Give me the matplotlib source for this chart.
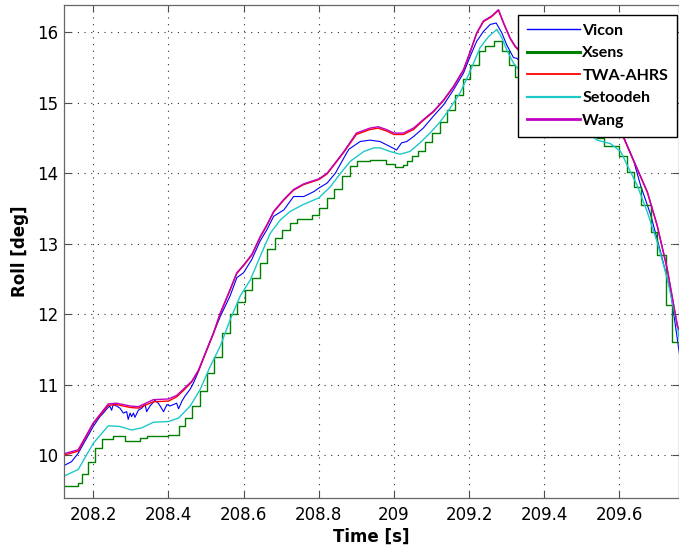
import matplotlib
matplotlib.use("Agg")
import matplotlib.pyplot as plt

# ---------------- data ----------------
t_vicon = [208.120, 208.142, 208.160, 208.180, 208.200, 208.218, 208.227, 208.236, 208.244,
           208.249, 208.253, 208.262, 208.271, 208.280, 208.289, 208.293, 208.298, 208.302,
           208.307, 208.311, 208.320, 208.329, 208.338, 208.342, 208.351, 208.364, 208.373,
           208.378, 208.387, 208.396, 208.404, 208.413, 208.422, 208.427, 208.436, 208.444,
           208.458, 208.467, 208.480, 208.502, 208.538, 208.564, 208.582, 208.600, 208.622,
           208.644, 208.662, 208.680, 208.707, 208.733, 208.760, 208.787, 208.800, 208.822,
           208.844, 208.867, 208.880, 208.910, 208.936, 208.963, 208.989, 209.007, 209.020,
           209.034, 209.052, 209.078, 209.105, 209.132, 209.158, 209.185, 209.203, 209.220,
           209.238, 209.256, 209.272, 209.287, 209.300, 209.318, 209.327, 209.380, 209.430,
           209.480, 209.530, 209.580, 209.612, 209.638, 209.656, 209.683, 209.709, 209.736,
           209.760]
vicon = [9.85, 9.91, 10.03, 10.22, 10.41, 10.55, 10.60, 10.66, 10.70,
         10.64, 10.72, 10.70, 10.67, 10.60, 10.62, 10.51, 10.60, 10.55,
         10.60, 10.54, 10.64, 10.67, 10.72, 10.62, 10.70, 10.78, 10.74,
         10.70, 10.62, 10.72, 10.70, 10.72, 10.74, 10.66, 10.77, 10.84,
         10.94, 11.03, 11.19, 11.50, 11.97, 12.26, 12.52, 12.59, 12.78,
         13.04, 13.20, 13.39, 13.48, 13.67, 13.67, 13.74, 13.79, 13.86,
         14.00, 14.22, 14.34, 14.45, 14.47, 14.45, 14.38, 14.33, 14.43,
         14.45, 14.52, 14.64, 14.81, 14.97, 15.18, 15.42, 15.66, 15.87,
         16.01, 16.11, 16.13, 15.99, 15.82, 15.64, 15.63, 15.35, 15.10,
         14.90, 14.72, 14.62, 14.50, 14.17, 13.83, 13.41, 12.89, 12.32,
         11.42]

t_xsens = [208.120, 208.160, 208.169, 208.187, 208.204, 208.222, 208.253, 208.284, 208.324,
           208.342, 208.400, 208.427, 208.444, 208.462, 208.484, 208.502, 208.520, 208.542,
           208.564, 208.582, 208.604, 208.622, 208.644, 208.662, 208.684, 208.702, 208.724,
           208.742, 208.782, 208.800, 208.822, 208.840, 208.862, 208.884, 208.902, 208.936,
           208.980, 209.003, 209.025, 209.034, 209.047, 209.065, 209.083, 209.100, 209.123,
           209.140, 209.163, 209.185, 209.203, 209.225, 209.243, 209.265, 209.287, 209.305,
           209.323, 209.345, 209.380, 209.420, 209.460, 209.500, 209.540, 209.558, 209.598,
           209.620, 209.638, 209.656, 209.683, 209.700, 209.723, 209.740, 209.760]
xsens = [9.56, 9.61, 9.73, 9.91, 10.10, 10.23, 10.27, 10.20, 10.25,
         10.28, 10.29, 10.42, 10.53, 10.70, 10.91, 11.17, 11.40, 11.74,
         12.00, 12.18, 12.35, 12.52, 12.73, 12.92, 13.08, 13.20, 13.30,
         13.35, 13.41, 13.51, 13.65, 13.77, 13.96, 14.10, 14.17, 14.19,
         14.13, 14.09, 14.12, 14.17, 14.24, 14.31, 14.45, 14.57, 14.73,
         14.90, 15.11, 15.33, 15.54, 15.73, 15.80, 15.87, 15.73, 15.54,
         15.37, 15.20, 15.00, 14.85, 14.72, 14.64, 14.50, 14.38, 14.24,
         14.02, 13.81, 13.55, 13.17, 12.84, 12.13, 11.61, 11.56]

t_twa = [208.120, 208.160, 208.200, 208.240, 208.262, 208.298, 208.320, 208.360, 208.400,
         208.422, 208.440, 208.462, 208.480, 208.502, 208.520, 208.538, 208.560, 208.582,
         208.600, 208.622, 208.644, 208.662, 208.680, 208.707, 208.733, 208.760, 208.800,
         208.822, 208.844, 208.867, 208.900, 208.936, 208.958, 208.980, 209.000, 209.025,
         209.052, 209.078, 209.105, 209.132, 209.158, 209.185, 209.203, 209.220, 209.238,
         209.260, 209.278, 209.292, 209.309, 209.323, 209.360, 209.410, 209.460, 209.510,
         209.560, 209.600, 209.612, 209.647, 209.674, 209.700, 209.727, 209.754, 209.760]
twa = [10.00, 10.06, 10.45, 10.71, 10.72, 10.68, 10.67, 10.76, 10.77,
       10.83, 10.92, 11.04, 11.20, 11.49, 11.73, 12.01, 12.29, 12.58,
       12.69, 12.84, 13.09, 13.26, 13.45, 13.62, 13.76, 13.84, 13.91,
       13.99, 14.14, 14.30, 14.55, 14.62, 14.64, 14.60, 14.55, 14.55,
       14.62, 14.75, 14.87, 15.03, 15.22, 15.46, 15.72, 15.98, 16.15,
       16.22, 16.31, 16.12, 15.91, 15.79, 15.59, 15.29, 15.02, 14.84,
       14.70, 14.58, 14.49, 14.06, 13.73, 13.26, 12.64, 11.83, 11.76]

t_setoodeh = [208.120, 208.160, 208.200, 208.240, 208.271, 208.302, 208.329, 208.360, 208.400,
              208.427, 208.458, 208.484, 208.511, 208.538, 208.564, 208.591, 208.618, 208.644,
              208.671, 208.698, 208.724, 208.760, 208.800, 208.831, 208.858, 208.884, 208.920,
              208.947, 208.963, 208.989, 209.016, 209.043, 209.069, 209.096, 209.123, 209.149,
              209.176, 209.203, 209.229, 209.252, 209.274, 209.287, 209.300, 209.318, 209.360,
              209.410, 209.460, 209.500, 209.540, 209.576, 209.603, 209.620, 209.647, 209.674,
              209.700, 209.727, 209.754, 209.760]
setoodeh = [9.70, 9.80, 10.17, 10.42, 10.41, 10.36, 10.39, 10.47, 10.48,
            10.53, 10.70, 10.93, 11.26, 11.55, 11.92, 12.26, 12.49, 12.82,
            13.15, 13.34, 13.46, 13.56, 13.65, 13.81, 14.00, 14.17, 14.31,
            14.36, 14.36, 14.31, 14.27, 14.31, 14.43, 14.57, 14.73, 14.92,
            15.14, 15.45, 15.78, 15.94, 16.04, 15.92, 15.75, 15.56, 15.30,
            15.02, 14.80, 14.66, 14.47, 14.42, 14.31, 14.12, 13.83, 13.45,
            13.03, 12.51, 11.84, 11.61]

t_wang = [208.120, 208.160, 208.200, 208.240, 208.262, 208.298, 208.320, 208.360, 208.400,
          208.422, 208.440, 208.462, 208.480, 208.502, 208.520, 208.538, 208.560, 208.582,
          208.600, 208.622, 208.644, 208.662, 208.680, 208.707, 208.733, 208.760, 208.800,
          208.822, 208.844, 208.867, 208.900, 208.936, 208.958, 208.980, 209.000, 209.025,
          209.052, 209.078, 209.105, 209.132, 209.158, 209.185, 209.203, 209.220, 209.238,
          209.260, 209.278, 209.292, 209.309, 209.323, 209.360, 209.410, 209.460, 209.510,
          209.560, 209.600, 209.612, 209.647, 209.674, 209.700, 209.727, 209.754, 209.760]
wang = [10.02, 10.08, 10.46, 10.73, 10.74, 10.70, 10.69, 10.79, 10.80,
        10.85, 10.94, 11.05, 11.21, 11.50, 11.74, 12.02, 12.30, 12.59,
        12.70, 12.85, 13.10, 13.27, 13.46, 13.63, 13.77, 13.85, 13.92,
        14.00, 14.15, 14.31, 14.57, 14.64, 14.66, 14.62, 14.57, 14.57,
        14.64, 14.76, 14.88, 15.04, 15.23, 15.47, 15.73, 15.99, 16.16,
        16.23, 16.32, 16.13, 15.92, 15.80, 15.60, 15.30, 15.03, 14.85,
        14.71, 14.59, 14.50, 14.07, 13.74, 13.27, 12.65, 11.84, 11.77]

series_names = ["Vicon", "Xsens", "TWA-AHRS", "Setoodeh", "Wang"]
x_ticks = [208.2, 208.4, 208.6, 208.8, 209.0, 209.2, 209.4, 209.6]
x_tick_labels = ["208.2", "208.4", "208.6", "208.8", "209", "209.2", "209.4", "209.6"]
y_ticks = [10, 11, 12, 13, 14, 15, 16]
x_label = "Time [s]"
y_label = "Roll [deg]"

# ---------------- figure ----------------
W, H = 679, 551
fig = plt.figure(figsize=(W / 100, H / 100), dpi=100)
ax = fig.add_axes([64.3 / W, 1 - 497.7 / H, (678.5 - 64.3) / W, (497.7 - 4.7) / H])

ax.plot(t_vicon, vicon, color="#0000ff", lw=0.8, label=series_names[0])
ax.plot(t_xsens, xsens, color="#008000", lw=1.0, drawstyle="steps-post", label=series_names[1])
ax.plot(t_twa, twa, color="#ff0000", lw=1.0, label=series_names[2])
ax.plot(t_setoodeh, setoodeh, color="#1ec8c8", lw=1.0, label=series_names[3])
ax.plot(t_wang, wang, color="#c000c0", lw=1.0, label=series_names[4])

ax.set_xlim(208.123, 209.757)
ax.set_ylim(9.40, 16.39)
ax.set_xticks(x_ticks)
ax.set_xticklabels(x_tick_labels)
ax.set_yticks(y_ticks)

for lab in ax.get_xticklabels() + ax.get_yticklabels():
    lab.set_fontfamily("DejaVu Sans")
    lab.set_fontsize(12)
ax.tick_params(axis="both", which="major", direction="in", length=5, width=0.8,
               color="0.3", top=True, right=True, labelcolor="black")
ax.tick_params(axis="x", pad=6)
ax.tick_params(axis="y", pad=4)

for sp in ax.spines.values():
    sp.set_color("0.4")
    sp.set_linewidth(0.9)

ax.grid(True, color="0.2", linestyle=(0, (1, 5)), linewidth=0.8)

ax.set_xlabel(x_label, fontfamily="DejaVu Sans", fontsize=12, fontweight="bold", labelpad=3)
ax.set_ylabel(y_label, fontfamily="DejaVu Sans", fontsize=12, fontweight="bold", labelpad=6)

leg = ax.legend(loc="upper right", bbox_to_anchor=(677 / W, 1 - 15 / H),
                bbox_transform=fig.transFigure, borderaxespad=0,
                prop=dict(family="Lato", weight="bold", size=11.5),
                handlelength=3.3, handletextpad=0.15, labelspacing=0.52,
                borderpad=0.55, frameon=True, fancybox=False, framealpha=1)
leg.get_frame().set_edgecolor("black")
leg.get_frame().set_linewidth(1.0)
for line, lw in zip(leg.get_lines(), [1.0, 2.2, 1.3, 1.6, 2.0]):
    line.set_linewidth(lw)
    line.set_drawstyle("default")

fig.savefig("out.png", dpi=100)
